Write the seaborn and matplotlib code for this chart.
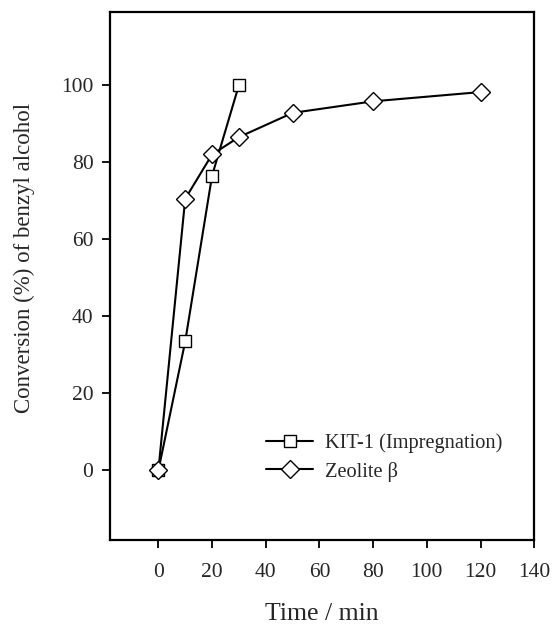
import numpy as np
import pandas as pd
import matplotlib
matplotlib.use("Agg")
import matplotlib.pyplot as plt
import seaborn as sns

kit_time = [0, 10, 20, 30]
kit_conv = [0, 33.5, 76.5, 100]
zeo_time = [0, 10, 20, 30, 50, 80, 120]
zeo_conv = [0, 70.5, 82, 86.5, 92.8, 95.8, 98.2]

sns.set_style("ticks")
plt.rcParams['font.family'] = 'serif'
plt.rcParams['font.serif'] = ['Liberation Serif', 'DejaVu Serif']

fig = plt.figure(figsize=(5.53, 6.27), dpi=100)
ax = fig.add_axes([0.199, 0.139, 0.767, 0.842])

df1 = pd.DataFrame({'t': kit_time, 'c': kit_conv})
df2 = pd.DataFrame({'t': zeo_time, 'c': zeo_conv})
sns.lineplot(data=df1, x='t', y='c', ax=ax, color='black', lw=1.5, marker='s',
             markersize=8, markerfacecolor='white', markeredgecolor='black',
             markeredgewidth=1.0, label='KIT-1 (Impregnation)')
sns.lineplot(data=df2, x='t', y='c', ax=ax, color='black', lw=1.5, marker='D',
             markersize=9, markerfacecolor='white', markeredgecolor='black',
             markeredgewidth=1.0, label='Zeolite β')

ax.set_xlim(-18, 140)
ax.set_ylim(-18, 119)
ax.set_xticks(np.arange(0, 141, 20))
ax.set_yticks(np.arange(0, 101, 20))
ax.tick_params(direction='out', length=6, width=1.3, labelsize=15.5, color='black')
ax.tick_params(axis='x', pad=11)
ax.tick_params(axis='y', pad=6)
for s in ax.spines.values():
    s.set_linewidth(1.6)
    s.set_color('black')
ax.set_xlabel('Time / min', fontsize=18.5, labelpad=15)
ax.set_ylabel('Conversion (%) of benzyl alcohol', fontsize=16.5)
ax.yaxis.set_label_coords(-0.177, 0.534)

ax.legend(loc='lower left', bbox_to_anchor=(0.349, 0.095), frameon=False,
          fontsize=14.7, handlelength=2.3, handletextpad=0.6, labelspacing=0.4,
          borderaxespad=0)

fig.savefig('out.png', dpi=100)
